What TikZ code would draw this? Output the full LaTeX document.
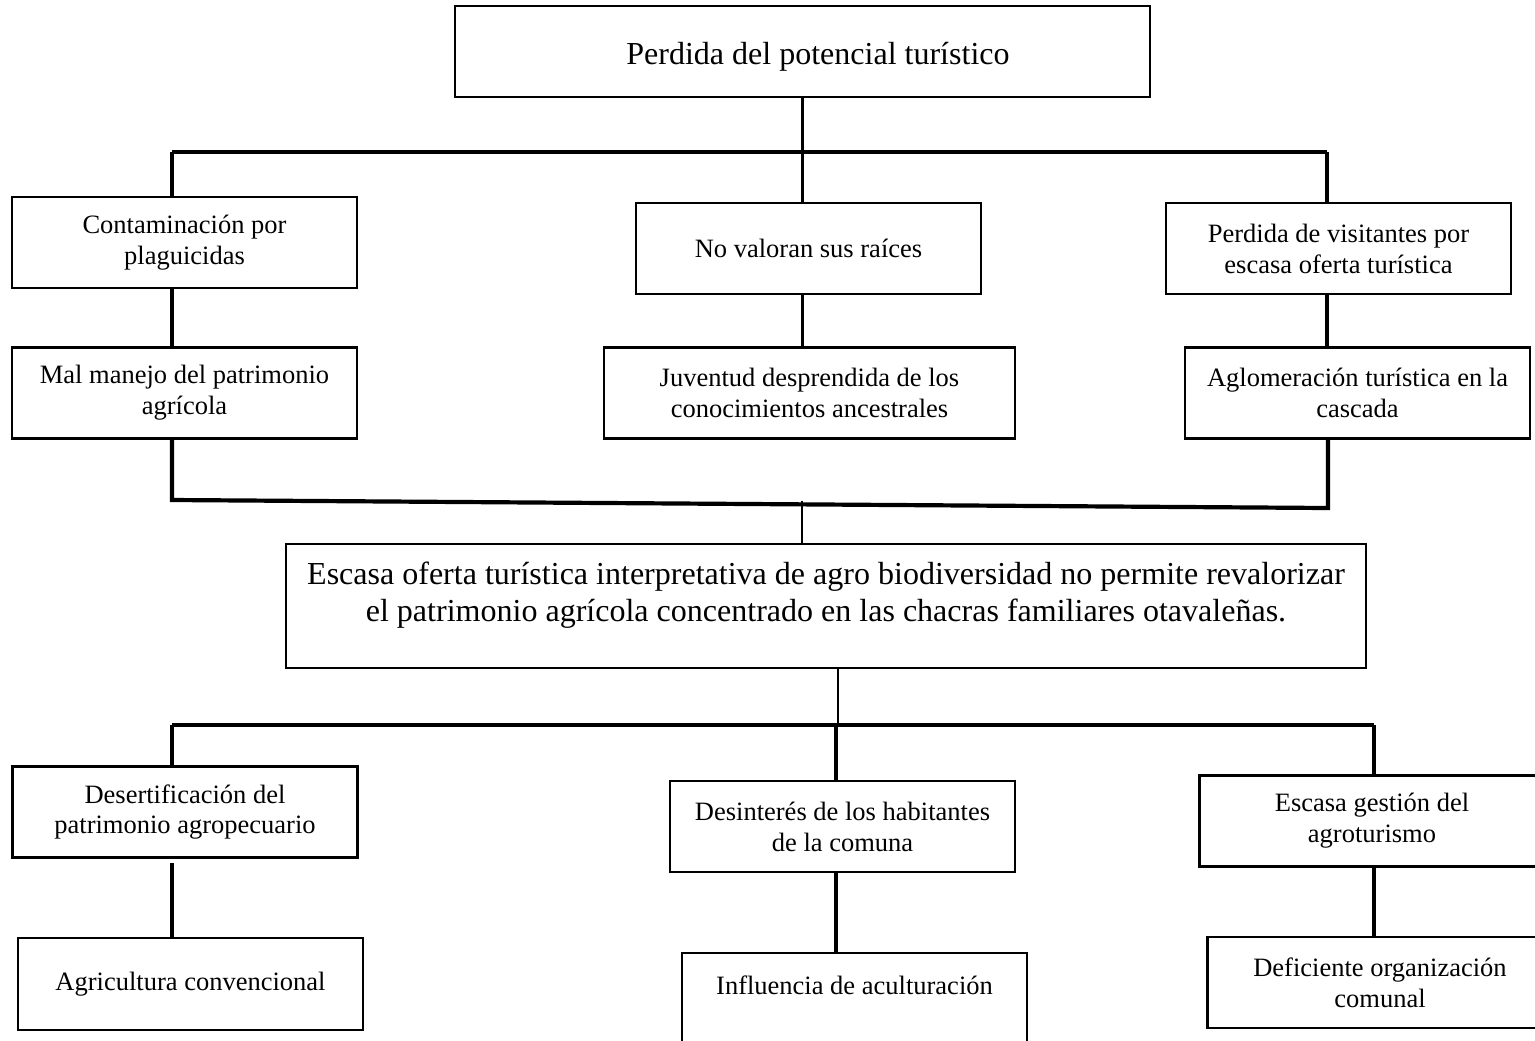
\documentclass[tikz,border=0pt]{standalone}
\usepackage{fontspec}
\setmainfont{Liberation Serif}

\tikzset{
  caja/.style={draw, line width=1pt, align=center, inner sep=2pt,
    minimum width=156.2pt, minimum height=41.2pt,
    font=\fontsize{12}{14}\selectfont},
  barra/.style={line width=1.9pt},
  linea/.style={line width=1.6pt},
  fina/.style={line width=1pt}
}

\begin{document}
\begin{tikzpicture}[x=0.4528pt, y=-0.4528pt]
        \useasboundingbox (0,0) rectangle (1535,1040);

        % efecto final
        \node[caja, minimum width=314.7pt, text height=15pt, font=\fontsize{14.5}{16.7}\selectfont] (top) at (802.5,51.5) {\hspace*{14pt}Perdida del potencial turístico};

        % efectos
        \node[caja] (c1) at (184.5,242.5) {Contaminación por\\plaguicidas};
        \node[caja] (c2) at (808.5,248.5) {No valoran sus raíces};
        \node[caja] (c3) at (1338.5,248.5) {Perdida de visitantes por\\escasa oferta turística};

        \node[caja] (d1) at (184.5,393) {Mal manejo del patrimonio\\agrícola};
        \node[caja, minimum width=186.1pt] (d2) at (809.5,393) {Juventud desprendida de los\\conocimientos ancestrales};
        \node[caja] (d3) at (1357.5,393) {Aglomeración turística en la\\cascada};

        % problema central
        \node[caja, minimum width=489pt, minimum height=56.1pt, text depth=13pt,
              font=\fontsize{14.5}{16.8}\selectfont] (prob) at (826,606)
              {Escasa oferta turística interpretativa de agro biodiversidad no permite revalorizar\\el patrimonio agrícola concentrado en las chacras familiares otavaleñas.};

        % causas
        \node[caja] (e1) at (185,812) {Desertificación del\\patrimonio agropecuario};
        \node[caja] (e2) at (842.5,826.5) {Desinterés de los habitantes\\de la comuna};
        \node[caja] (e3) at (1372,821) {Escasa gestión del\\agroturismo};

        \node[caja, minimum height=41.7pt] (f1) at (190.5,984) {Agricultura convencional};
        \node[caja, minimum height=43.9pt, text depth=15pt] (f2) at (854.5,1001.5) {Influencia de aculturación};
        \node[caja] (f3) at (1380,982.5) {Deficiente organización\\comunal};

        % arriba
        \coordinate (bl) at (172,152);
        \coordinate (br) at (1327,152);
        \draw[fina] (top.south) -- (top.south |- c2.north);
        \draw[barra] (bl) -- (br);
        \draw[linea] (bl) -- (bl |- c1.north);
        \draw[linea] (br) -- (br |- c3.north);
        \draw[linea] (bl |- c1.south) -- (bl |- d1.north);
        \draw[linea] (top.south |- c2.south) -- (top.south |- d2.north);
        \draw[linea] (br |- c3.south) -- (br |- d3.north);

        % union inclinada
        \coordinate (ml) at (172,500);
        \coordinate (mr) at (1328,508);
        \coordinate (mc) at (802,501);
        \draw[barra] (bl |- d1.south) -- (ml) -- (mr) -- (mr |- d3.south);
        \draw[fina] (mc) -- (mc |- prob.north);

        % abajo
        \coordinate (pc) at (838,668);
        \coordinate (ul) at (172,725);
        \coordinate (ur) at (1374,725);
        \coordinate (um) at (836,725);
        \draw[fina] (pc) -- (pc |- ul);
        \draw[barra] (ul) -- (ur);
        \draw[linea] (ul) -- (ul |- e1.north);
        \draw[linea] (um) -- (um |- e2.north);
        \draw[linea] (ur) -- (ur |- e3.north);
        \draw[linea] ([yshift=-2pt]ul |- e1.south) -- (ul |- f1.north);
        \draw[linea] (um |- e2.south) -- (um |- f2.north);
        \draw[linea] (ur |- e3.south) -- (ur |- f3.north);
\end{tikzpicture}
\end{document}
